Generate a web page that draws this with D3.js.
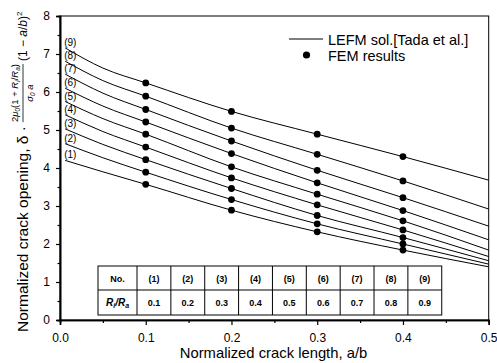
<!DOCTYPE html>
<html>
<head>
<meta charset="utf-8">
<script src="https://cdn.jsdelivr.net/npm/d3@7"></script>
<style>
  body { margin: 0; background: #fff; }
  svg { display: block; }
  text { font-family: "Liberation Sans", Arial, sans-serif; fill: #000; }
</style>
</head>
<body>
<svg id="chart" width="497" height="363"></svg>
<script>
// Normalized crack length a/b at which the LEFM curves are sampled
const crackLength = [0.006, 0.05, 0.1, 0.2, 0.3, 0.4, 0.5];
// LEFM solution (Tada et al.), one array per radius ratio Ri/Ra = 0.1 ... 0.9
const lefm1 = [4.20, 3.90, 3.57, 2.89, 2.32, 1.84, 1.40];
const lefm2 = [4.64, 4.27, 3.89, 3.17, 2.53, 2.00, 1.47];
const lefm3 = [5.03, 4.62, 4.22, 3.46, 2.75, 2.17, 1.56];
const lefm4 = [5.40, 4.96, 4.55, 3.74, 3.03, 2.37, 1.67];
const lefm5 = [5.75, 5.30, 4.89, 4.03, 3.31, 2.61, 1.84];
const lefm6 = [6.10, 5.63, 5.21, 4.38, 3.61, 2.88, 2.11];
const lefm7 = [6.47, 5.97, 5.54, 4.71, 3.94, 3.22, 2.47];
const lefm8 = [6.81, 6.30, 5.89, 5.05, 4.36, 3.66, 2.92];
const lefm9 = [7.16, 6.63, 6.24, 5.49, 4.89, 4.30, 3.68];
const lefmCurves = [lefm1, lefm2, lefm3, lefm4, lefm5, lefm6, lefm7, lefm8, lefm9];

// FEM results at a/b = 0.1 ... 0.4
const femLength = [0.1, 0.2, 0.3, 0.4];
const fem1 = [3.57, 2.89, 2.32, 1.84];
const fem2 = [3.89, 3.17, 2.53, 2.00];
const fem3 = [4.22, 3.46, 2.75, 2.17];
const fem4 = [4.55, 3.74, 3.03, 2.37];
const fem5 = [4.89, 4.03, 3.31, 2.61];
const fem6 = [5.21, 4.38, 3.61, 2.88];
const fem7 = [5.54, 4.71, 3.94, 3.22];
const fem8 = [5.89, 5.05, 4.36, 3.66];
const fem9 = [6.24, 5.49, 4.89, 4.30];
const femSeries = [fem1, fem2, fem3, fem4, fem5, fem6, fem7, fem8, fem9];

// Curve identifiers and the radius ratio each one stands for
const curveIds = ["(1)", "(2)", "(3)", "(4)", "(5)", "(6)", "(7)", "(8)", "(9)"];
const radiusRatios = ["0.1", "0.2", "0.3", "0.4", "0.5", "0.6", "0.7", "0.8", "0.9"];

// Axis ticks
const xMajorTicks = [0, 0.1, 0.2, 0.3, 0.4, 0.5];
const xMinorTicks = [0.05, 0.15, 0.25, 0.35, 0.45];
const yMajorTicks = [0, 1, 2, 3, 4, 5, 6, 7, 8];
const yMinorTicks = [0.5, 1.5, 2.5, 3.5, 4.5, 5.5, 6.5, 7.5];

const svg = d3.select("#chart");
const plot = { left: 60, right: 488.7, top: 16, bottom: 320 };

const x = d3.scaleLinear().domain([0, 0.5]).range([plot.left, plot.right]);
const y = d3.scaleLinear().domain([0, 8]).range([plot.bottom, plot.top]);

// Frame
svg.append("rect")
  .attr("x", plot.left).attr("y", plot.top)
  .attr("width", plot.right - plot.left).attr("height", plot.bottom - plot.top)
  .attr("fill", "none").attr("stroke", "#000").attr("stroke-width", 1);

// Axes
svg.append("g").attr("transform", `translate(0,${plot.bottom})`)
  .call(d3.axisBottom(x).tickValues(xMajorTicks).tickFormat(d3.format(".1f")).tickSize(5).tickPadding(8));
svg.append("g").attr("transform", `translate(0,${plot.bottom})`)
  .call(d3.axisBottom(x).tickValues(xMinorTicks).tickFormat("").tickSize(3));
svg.append("g").attr("transform", `translate(${plot.left},0)`)
  .call(d3.axisLeft(y).tickValues(yMajorTicks).tickFormat(d3.format("d")).tickSize(4).tickPadding(6));
svg.append("g").attr("transform", `translate(${plot.left},0)`)
  .call(d3.axisLeft(y).tickValues(yMinorTicks).tickFormat("").tickSize(2.5));

svg.selectAll(".domain").attr("stroke", "#000").attr("stroke-width", 1.6);
svg.selectAll(".tick line").attr("stroke", "#000").attr("stroke-width", 1.2);
svg.selectAll(".tick text").style("font-size", "12px").style("font-family", "Liberation Sans, Arial, sans-serif");

// LEFM curves
const line = d3.line()
  .x((d, i) => x(crackLength[i]))
  .y(d => y(d))
  .curve(d3.curveMonotoneX);

svg.append("g").selectAll("path")
  .data(lefmCurves)
  .join("path")
  .attr("d", line)
  .attr("fill", "none")
  .attr("stroke", "#000")
  .attr("stroke-width", 1);

// Curve labels at the start of each curve
svg.append("g").selectAll("text")
  .data(lefmCurves)
  .join("text")
  .attr("x", x(crackLength[0]) - 1)
  .attr("y", d => y(d[0]) - 2)
  .style("font-size", "10px")
  .text((d, i) => curveIds[i]);

// FEM points
const femPoints = femSeries.flatMap(s => s.map((v, j) => ({ a: femLength[j], v })));
svg.append("g").selectAll("circle")
  .data(femPoints)
  .join("circle")
  .attr("cx", d => x(d.a))
  .attr("cy", d => y(d.v))
  .attr("r", 3.4)
  .attr("fill", "#000");

// Legend
const legend = svg.append("g");
legend.append("line").attr("x1", 289).attr("x2", 323).attr("y1", 39).attr("y2", 39)
  .attr("stroke", "#000").attr("stroke-width", 1);
legend.append("text").attr("x", 328).attr("y", 44.5).style("font-size", "14.5px")
  .text("LEFM sol.[Tada et al.]");
legend.append("circle").attr("cx", 306.5).attr("cy", 55).attr("r", 3.6).attr("fill", "#000");
legend.append("text").attr("x", 328).attr("y", 60.5).style("font-size", "14.5px")
  .text("FEM results");

// Table of curve numbers and radius ratios
const table = svg.append("g");
const tLeft = 98, tFirst = 39, tCol = 33.86, tTop = 266, tMid = 290, tBottom = 315;
const tRight = tLeft + tFirst + tCol * curveIds.length;
table.append("rect").attr("x", tLeft).attr("y", tTop)
  .attr("width", tRight - tLeft).attr("height", tBottom - tTop)
  .attr("fill", "#fff").attr("stroke", "#000").attr("stroke-width", 1);
table.append("line").attr("x1", tLeft).attr("x2", tRight).attr("y1", tMid).attr("y2", tMid)
  .attr("stroke", "#000").attr("stroke-width", 1);
const colEdges = d3.range(curveIds.length).map(i => tLeft + tFirst + i * tCol);
table.selectAll("line.col").data(colEdges).join("line").attr("class", "col")
  .attr("x1", d => d).attr("x2", d => d).attr("y1", tTop).attr("y2", tBottom)
  .attr("stroke", "#000").attr("stroke-width", 1);
table.append("text").attr("x", tLeft + tFirst / 2).attr("y", (tTop + tMid) / 2 + 3.5)
  .attr("text-anchor", "middle").style("font-size", "9px").style("font-weight", "bold").text("No.");
const rr = table.append("text").attr("x", tLeft + tFirst / 2).attr("y", (tMid + tBottom) / 2 + 3.5)
  .attr("text-anchor", "middle").style("font-size", "10px").style("font-style", "italic").style("font-weight", "bold");
rr.append("tspan").text("R");
rr.append("tspan").attr("dy", 2).style("font-size", "7px").text("i");
rr.append("tspan").attr("dy", -2).text("/R");
rr.append("tspan").attr("dy", 2).style("font-size", "7px").text("a");
table.selectAll("text.no").data(curveIds).join("text").attr("class", "no")
  .attr("x", (d, i) => colEdges[i] + tCol / 2).attr("y", (tTop + tMid) / 2 + 3.5)
  .attr("text-anchor", "middle").style("font-size", "9px").style("font-weight", "bold").text(d => d);
table.selectAll("text.ratio").data(radiusRatios).join("text").attr("class", "ratio")
  .attr("x", (d, i) => colEdges[i] + tCol / 2).attr("y", (tMid + tBottom) / 2 + 3.5)
  .attr("text-anchor", "middle").style("font-size", "9px").style("font-weight", "bold").text(d => d);

// X axis title
svg.append("text").attr("x", 273.5).attr("y", 358).attr("text-anchor", "middle")
  .style("font-size", "14.8px").text("Normalized crack length, a/b");

// Y axis title: text, then the fraction 2μ0(1+Ri/Ra)/(σ0 a), then (1 − a/b)²
const yt = svg.append("g").attr("transform", "translate(28,332) rotate(-90)");
const main = yt.append("text").attr("x", 0).attr("y", 0).style("font-size", "15.5px")
  .text("Normalized crack opening, δ ·");
let pos = main.node().getComputedTextLength() + 4;

const num = yt.append("text").attr("x", pos).attr("y", -10).style("font-size", "9.5px");
num.append("tspan").text("2");
num.append("tspan").style("font-style", "italic").text("μ");
num.append("tspan").attr("dy", 2).style("font-size", "6.5px").text("0");
num.append("tspan").attr("dy", -2).text("(1 + ");
num.append("tspan").style("font-style", "italic").text("R");
num.append("tspan").attr("dy", 2).style("font-size", "6.5px").style("font-style", "italic").text("i");
num.append("tspan").attr("dy", -2).text("/");
num.append("tspan").style("font-style", "italic").text("R");
num.append("tspan").attr("dy", 2).style("font-size", "6.5px").style("font-style", "italic").text("a");
num.append("tspan").attr("dy", -2).text(")");
const numLen = num.node().getComputedTextLength();

yt.append("line").attr("x1", pos).attr("x2", pos + numLen).attr("y1", -5).attr("y2", -5)
  .attr("stroke", "#000").attr("stroke-width", 0.8);

const den = yt.append("text").attr("x", pos + numLen / 2).attr("y", 5).attr("text-anchor", "middle")
  .style("font-size", "9.5px").style("font-style", "italic");
den.append("tspan").text("σ");
den.append("tspan").attr("dy", 2).style("font-size", "6.5px").text("0");
den.append("tspan").attr("dy", -2).text(" a");

pos += numLen + 3;
const tail = yt.append("text").attr("x", pos).attr("y", -1).style("font-size", "12px");
tail.append("tspan").text("(1 − ");
tail.append("tspan").style("font-style", "italic").text("a");
tail.append("tspan").text("/");
tail.append("tspan").style("font-style", "italic").text("b");
tail.append("tspan").text(")");
tail.append("tspan").attr("dy", -5).style("font-size", "8px").text("2");
</script>
</body>
</html>
